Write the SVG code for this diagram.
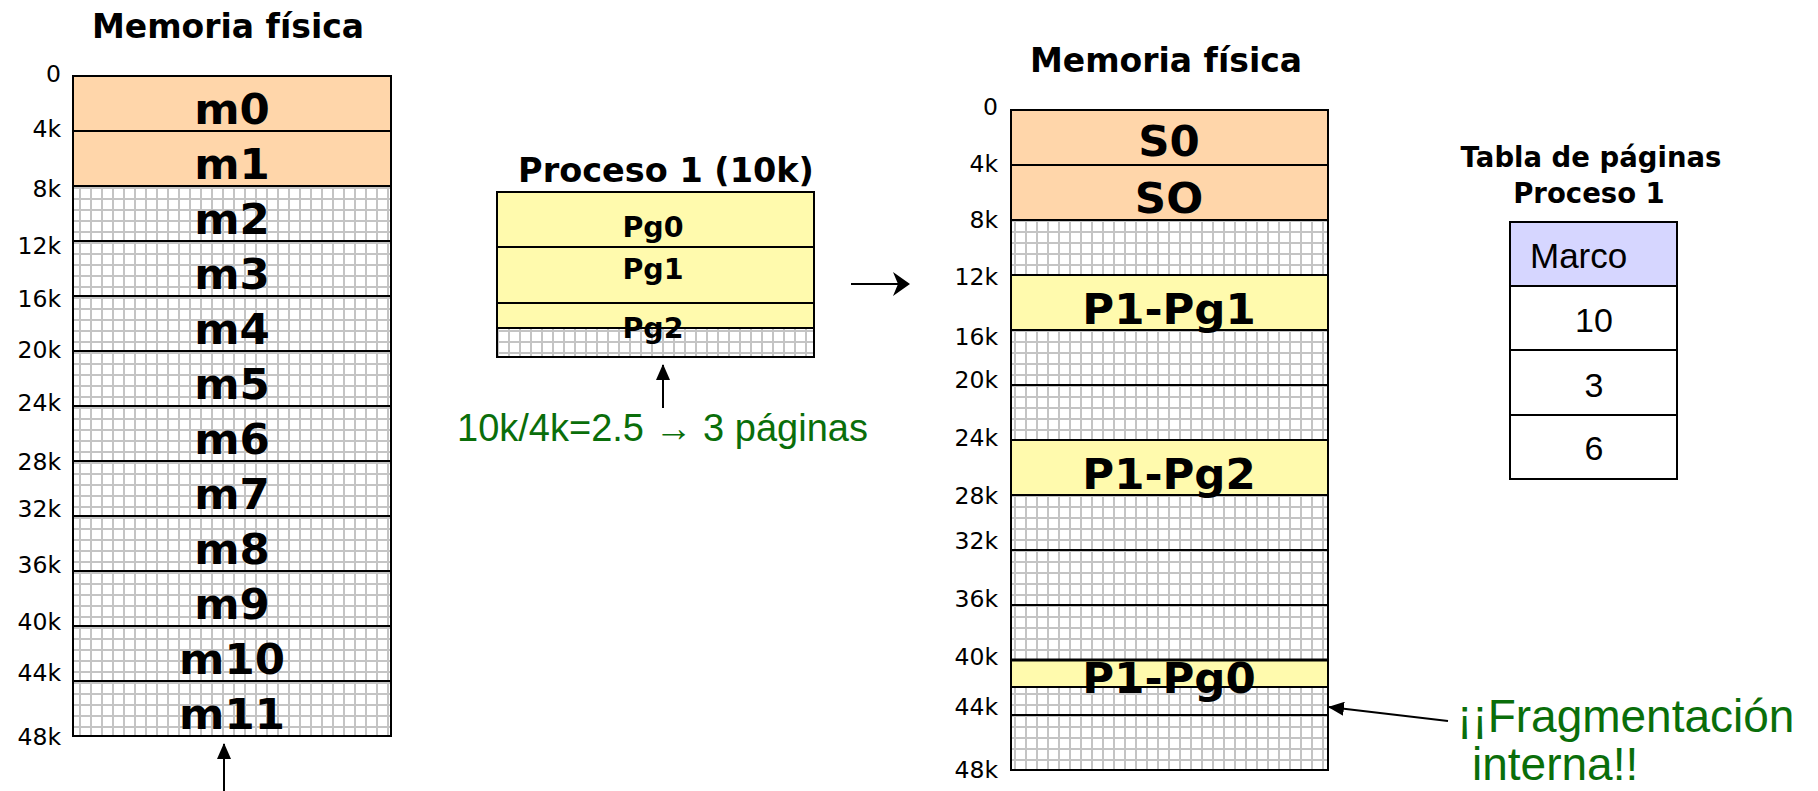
<svg xmlns="http://www.w3.org/2000/svg" width="1818" height="791" viewBox="0 0 1818 791">
<style>
.bt{font-family:"DejaVu Sans",Verdana,sans-serif;font-weight:bold;fill:#000}
.big{font-size:43.5px;text-anchor:middle}
.title{font-size:33px;text-anchor:middle}
.pg{font-size:28.5px;text-anchor:middle}
.lab{font-family:"DejaVu Sans",Verdana,sans-serif;font-size:23.5px;text-anchor:end;fill:#000}
.rt{font-family:"Liberation Sans",Arial,sans-serif;fill:#000}
.green{font-family:"Liberation Sans",Arial,sans-serif;fill:#0a6e0a}
.sep{stroke:#000;stroke-width:2;fill:none}
.border{stroke:#000;stroke-width:2;fill:none}
.orange{fill:#ffd6aa}
.yellow{fill:#fffaad}
.conn{stroke:#000;stroke-width:2;fill:none}
</style>
<defs>
<pattern id="grid" width="11" height="11" patternUnits="userSpaceOnUse" x="2" y="0">
<rect width="11" height="11" fill="#fff"/>
<path d="M0 1H11M1 0V11" stroke="#c4c4c4" stroke-width="2"/>
</pattern>
<marker id="ah" viewBox="0 0 16 14" refX="15" refY="7" markerWidth="16" markerHeight="14" markerUnits="userSpaceOnUse" orient="auto">
<path d="M0 0L16 7L0 14z" fill="#000"/>
</marker>
</defs>
<rect width="1818" height="791" fill="#fff"/>

<!-- Left physical memory -->
<g id="mem-left">
<text class="bt title" x="228" y="38">Memoria física</text>
<rect x="73" y="76" width="318" height="660" fill="url(#grid)"/>
<rect class="orange" x="73" y="76" width="318" height="110"/>
<path class="sep" d="M73 131H391M73 186H391M73 241H391M73 296H391M73 351H391M73 406H391M73 461H391M73 516H391M73 571H391M73 626H391M73 681H391"/>
<rect class="border" x="73" y="76" width="318" height="660"/>
<text class="bt big" x="232" y="124">m0</text>
<text class="bt big" x="232" y="179">m1</text>
<text class="bt big" x="232" y="234">m2</text>
<text class="bt big" x="232" y="289">m3</text>
<text class="bt big" x="232" y="344">m4</text>
<text class="bt big" x="232" y="399">m5</text>
<text class="bt big" x="232" y="454">m6</text>
<text class="bt big" x="232" y="509">m7</text>
<text class="bt big" x="232" y="564">m8</text>
<text class="bt big" x="232" y="619">m9</text>
<text class="bt big" x="232" y="674">m10</text>
<text class="bt big" x="232" y="729">m11</text>
<text class="lab" x="61" y="82">0</text>
<text class="lab" x="61" y="137">4k</text>
<text class="lab" x="61" y="197">8k</text>
<text class="lab" x="61" y="254">12k</text>
<text class="lab" x="61" y="307">16k</text>
<text class="lab" x="61" y="358">20k</text>
<text class="lab" x="61" y="411">24k</text>
<text class="lab" x="61" y="470">28k</text>
<text class="lab" x="61" y="517">32k</text>
<text class="lab" x="61" y="573">36k</text>
<text class="lab" x="61" y="630">40k</text>
<text class="lab" x="61" y="681">44k</text>
<text class="lab" x="61" y="745">48k</text>
</g>

<!-- Process 1 -->
<g id="proceso1">
<text class="bt" x="666" y="182" style="font-size:33.5px;text-anchor:middle">Proceso 1 (10k)</text>
<rect class="yellow" x="497" y="192" width="317" height="136"/>
<rect x="497" y="328" width="317" height="29" fill="url(#grid)"/>
<path class="sep" d="M497 247H814M497 303H814M497 328H814"/>
<rect class="border" x="497" y="192" width="317" height="165"/>
<text class="bt pg" x="653" y="237">Pg0</text>
<text class="bt pg" x="653" y="279">Pg1</text>
<text class="bt pg" x="653" y="338">Pg2</text>
</g>

<!-- Calculation note -->
<g id="nota-paginas">
<text class="green" x="457" y="441" style="font-size:38px">10k/4k=2.5 → 3 páginas</text>
</g>

<!-- Right physical memory -->
<g id="mem-right">
<text class="bt title" x="1166" y="72">Memoria física</text>
<rect x="1011" y="110" width="317" height="660" fill="url(#grid)"/>
<rect class="orange" x="1011" y="110" width="317" height="110"/>
<rect class="yellow" x="1011" y="275" width="317" height="55"/>
<rect class="yellow" x="1011" y="440" width="317" height="55"/>
<rect class="yellow" x="1011" y="660" width="317" height="27"/>
<path class="sep" d="M1011 165H1328M1011 220H1328M1011 275H1328M1011 330H1328M1011 385H1328M1011 440H1328M1011 495H1328M1011 550H1328M1011 605H1328M1011 687H1328M1011 715H1328"/>
<path d="M1011 660H1328" stroke="#000" stroke-width="3"/>
<rect class="border" x="1011" y="110" width="317" height="660"/>
<text class="bt big" x="1169" y="156">S0</text>
<text class="bt big" x="1169" y="213">SO</text>
<text class="bt big" x="1169" y="324">P1-Pg1</text>
<text class="bt big" x="1169" y="489">P1-Pg2</text>
<text class="bt big" x="1169" y="693">P1-Pg0</text>
<text class="lab" x="998" y="115">0</text>
<text class="lab" x="998" y="172">4k</text>
<text class="lab" x="998" y="228">8k</text>
<text class="lab" x="998" y="285">12k</text>
<text class="lab" x="998" y="345">16k</text>
<text class="lab" x="998" y="388">20k</text>
<text class="lab" x="998" y="446">24k</text>
<text class="lab" x="998" y="504">28k</text>
<text class="lab" x="998" y="549">32k</text>
<text class="lab" x="998" y="607">36k</text>
<text class="lab" x="998" y="665">40k</text>
<text class="lab" x="998" y="715">44k</text>
<text class="lab" x="998" y="778">48k</text>
</g>

<!-- Page table -->
<g id="tabla-paginas">
<text class="bt" x="1591" y="167" style="font-size:27.5px;text-anchor:middle">Tabla de páginas</text>
<text class="bt" x="1589" y="203" style="font-size:27.5px;text-anchor:middle">Proceso 1</text>
<rect x="1510" y="222" width="167" height="64" fill="#d6d6ff"/>
<rect x="1510" y="286" width="167" height="193" fill="#fff"/>
<path class="sep" d="M1510 286H1677M1510 350H1677M1510 415H1677"/>
<rect class="border" x="1510" y="222" width="167" height="257"/>
<text class="rt" x="1530" y="268" style="font-size:35px">Marco</text>
<text class="rt" x="1594" y="332" style="font-size:34px;text-anchor:middle">10</text>
<text class="rt" x="1594" y="397" style="font-size:34px;text-anchor:middle">3</text>
<text class="rt" x="1594" y="460" style="font-size:34px;text-anchor:middle">6</text>
</g>

<!-- Fragmentation note -->
<g id="nota-fragmentacion">
<text class="green" x="1457" y="732" style="font-size:46px">¡¡Fragmentación</text>
<text class="green" x="1472" y="780" style="font-size:46px">interna!!</text>
</g>

<!-- Connectors -->
<g id="connectors">
<path class="conn" d="M224 791V744" marker-end="url(#ah)"/>
<path class="conn" d="M663 408V365" marker-end="url(#ah)"/>
<path class="conn" d="M851 284H908"/>
<path d="M910 284L893 272L898 284L893 296z" fill="#000"/>
<path class="conn" d="M1448 721L1329 707" marker-end="url(#ah)"/>
</g>
</svg>
